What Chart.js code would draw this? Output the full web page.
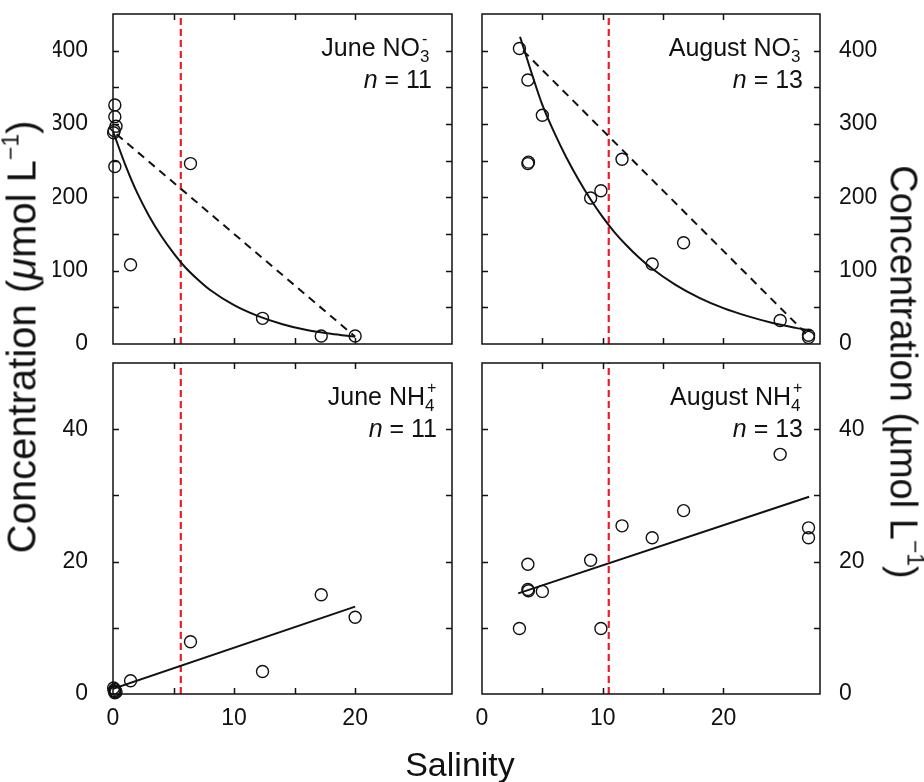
<!DOCTYPE html>
<html>
<head>
<meta charset="utf-8">
<script src="https://cdn.jsdelivr.net/npm/chart.js@4.4.0/dist/chart.umd.min.js"></script>
<style>
  html, body { margin: 0; padding: 0; background: #fff; }
  #wrap { position: relative; width: 924px; height: 782px; overflow: hidden;
          font-family: "Liberation Sans", Arial, sans-serif; color: #111; }
  #wrap canvas { position: absolute; left: 0; top: 0; }
  .note { position: absolute; text-align: right; font-size: 25px; line-height: 32px; white-space: nowrap; }
  .ss { display: inline-block; position: relative; width: 12px; height: 20px; }
  .ss .up { position: absolute; left: 2px; top: -13px; font-size: 16px; }
  .ss .dn { position: absolute; left: 0; top: 5px; font-size: 17px; }
  .title { position: absolute; white-space: nowrap; font-size: 40px; }
  .title sup { font-size: 23px; vertical-align: 17px; }
</style>
</head>
<body>
<div id="wrap">
  <canvas id="cJuneNo3" width="924" height="782"></canvas>
  <canvas id="cAugNo3" width="924" height="782"></canvas>
  <canvas id="cJuneNh4" width="924" height="782"></canvas>
  <canvas id="cAugNh4" width="924" height="782"></canvas>

  <div class="note" style="right:492px; top:31px;">June NO<span class="ss"><span class="up">-</span><span class="dn">3</span></span><br><i>n</i> = 11</div>
  <div class="note" style="right:121px; top:31px;">August NO<span class="ss"><span class="up">-</span><span class="dn">3</span></span><br><i>n</i> = 13</div>
  <div class="note" style="right:487px; top:380px;">June NH<span class="ss"><span class="up">+</span><span class="dn">4</span></span><br><i>n</i> = 11</div>
  <div class="note" style="right:121px; top:380px;">August NH<span class="ss"><span class="up">+</span><span class="dn">4</span></span><br><i>n</i> = 13</div>

  <div class="title" style="left:21px; top:337px; transform:translate(-50%,-50%) rotate(-90deg);">Concentration (<i>μ</i>mol L<sup>−1</sup>)</div>
  <div class="title" style="left:905px; top:372px; transform:translate(-50%,-50%) rotate(90deg); font-size:38px;">Concentration (µmol L<sup>−1</sup>)</div>
  <div class="title" style="left:460px; top:764px; transform:translate(-50%,-50%); font-size:34px;">Salinity</div>
</div>

<script>
/* ── Data ─────────────────────────────────────────────────────── */
// June stations (n = 11)
const juneSalinity = [0.15, 0.15, 0.25, 0.1, 0.05, 0.15, 1.45, 6.4, 12.35, 17.2, 20.0];
const juneNo3      = [326, 310, 297, 291, 288, 242, 108, 246, 35, 11, 11];
const juneNh4      = [0.4, 0.7, 0.3, 0.5, 0.9, 0.2, 2.0, 7.9, 3.4, 15.0, 11.6];

// August stations (n = 13)
const augSalinity = [3.1, 3.8, 3.8, 3.85, 5.0, 9.0, 9.85, 11.6, 14.1, 16.7, 24.7, 27.05, 27.05];
const augNo3      = [403, 360, 246, 248, 312, 199, 209, 252, 109, 138, 32, 12, 9];
const augNh4      = [9.9, 19.6, 15.8, 15.6, 15.5, 20.2, 9.9, 25.4, 23.6, 27.7, 36.2, 25.1, 23.6];

// fitted curves (solid) and conservative mixing lines (dashed)
const juneNo3FitX = [0, 1, 2, 3, 4, 5, 6, 7, 8, 10, 12, 14, 16, 18, 20];
const juneNo3FitY = [290, 245, 206, 174, 147, 124, 104, 88, 74, 53, 38, 27, 19, 14, 10];
const juneNo3MixX = [0.3, 20];
const juneNo3MixY = [286, 10];

const augNo3FitX = [3.15, 4, 5, 6, 7, 8, 9, 10, 11, 12, 13, 14, 16, 18, 20, 22, 24, 26, 27.3];
const augNo3FitY = [419, 375, 326, 288, 254, 224, 197, 173, 152, 134, 118, 104, 81, 63, 49, 38, 29, 22, 18];
const augNo3MixX = [3.4, 27.1];
const augNo3MixY = [400, 10];

const juneNh4FitX = [0, 20];
const juneNh4FitY = [0.8, 13.2];
const augNh4FitX  = [3.0, 27.1];
const augNh4FitY  = [15.2, 29.8];

// red vertical markers (salinity)
const juneMarker = 5.6;
const augMarker  = 10.5;

// axes
const salinityMax = 28;
const no3Max = 450;
const nh4Max = 50;

/* ── Helpers ─────────────────────────────────────────────────── */
const FONT = 'Liberation Sans';
const pts = (xs, ys) => xs.map((x, i) => ({ x, y: ys[i] }));

// frame + inward ticks on all four sides
const framePlugin = {
  id: 'frame',
  afterDatasetsDraw(chart) {
    const { ctx, chartArea: a, scales } = chart;
    ctx.save();
    ctx.strokeStyle = '#111';
    ctx.lineWidth = 1.5;
    const len = 6;
    scales.x.ticks.forEach(t => {
      if (t.value <= scales.x.min || t.value >= scales.x.max) return;
      const px = Math.round(scales.x.getPixelForValue(t.value)) + 0.5;
      ctx.beginPath();
      ctx.moveTo(px, a.bottom); ctx.lineTo(px, a.bottom - len);
      ctx.moveTo(px, a.top);    ctx.lineTo(px, a.top + len);
      ctx.stroke();
    });
    scales.y.ticks.forEach(t => {
      if (t.value <= scales.y.min || t.value >= scales.y.max) return;
      const py = Math.round(scales.y.getPixelForValue(t.value)) + 0.5;
      ctx.beginPath();
      ctx.moveTo(a.left, py);  ctx.lineTo(a.left + len, py);
      ctx.moveTo(a.right, py); ctx.lineTo(a.right - len, py);
      ctx.stroke();
    });
    ctx.strokeRect(a.left, a.top, a.right - a.left, a.bottom - a.top);
    ctx.restore();
  }
};

// fixed axis size, and no extra label padding pushed into the layout
const fixSize = (dim, size) => s => {
  s[dim] = size;
  s.paddingTop = 0; s.paddingBottom = 0;
  s.paddingLeft = 0; s.paddingRight = 0;
};

function buildPanel(canvasId, opt) {
  const datasets = [
    {
      type: 'scatter',
      data: pts(opt.sal, opt.conc),
      pointRadius: 6,
      pointBorderWidth: 1.4,
      pointBorderColor: '#111',
      pointBackgroundColor: 'rgba(0,0,0,0)',
      clip: false,
    },
  ];
  opt.lines.forEach(l => datasets.push({
    type: 'line',
    data: pts(l.x, l.y),
    borderColor: '#111',
    borderWidth: 2,
    borderDash: l.dash ? [8, 6] : [],
    pointRadius: 0,
    cubicInterpolationMode: 'monotone',
    fill: false,
  }));
  datasets.push({
    type: 'line',
    data: pts([opt.marker, opt.marker], [0, opt.yMax]),
    borderColor: '#ee1c24',
    borderWidth: 2.2,
    borderDash: [7, 4],
    pointRadius: 0,
    fill: false,
  });

  const rightSide = opt.side === 'right';
  const bottomRow = opt.row === 'bottom';
  const f = opt.frame;

  return new Chart(document.getElementById(canvasId), {
    type: 'scatter',
    data: { datasets },
    options: {
      responsive: false,
      animation: false,
      events: [],
      layout: {
        autoPadding: false,
        padding: {
          left: rightSide ? f.left : f.left - 60,
          right: rightSide ? 924 - f.right - 60 : 924 - f.right,
          top: f.top,
          bottom: bottomRow ? 782 - f.bottom - 40 : 782 - f.bottom,
        },
      },
      plugins: { legend: { display: false }, tooltip: { enabled: false } },
      scales: {
        x: {
          type: 'linear',
          min: 0, max: salinityMax,
          grid: { display: false, drawTicks: false },
          border: { display: false },
          ticks: {
            display: bottomRow,
            stepSize: 5,
            padding: 11,
            color: '#111',
            font: { family: FONT, size: 23 },
            callback: v => (v % 10 === 0 ? String(v) : ''),
          },
          afterFit: fixSize('height', bottomRow ? 40 : 0),
        },
        y: {
          type: 'linear',
          position: rightSide ? 'right' : 'left',
          min: 0, max: opt.yMax,
          grid: { display: false, drawTicks: false },
          border: { display: false },
          ticks: {
            stepSize: opt.yStep,
            padding: rightSide ? 19 : 25,
            color: '#111',
            font: { family: FONT, size: 23 },
            callback: v => (v % opt.yLabelEvery === 0 && v < opt.yMax ? String(v) : ''),
          },
          afterFit: fixSize('width', 60),
        },
      },
    },
    plugins: [framePlugin],
  });
}

/* ── Panels ──────────────────────────────────────────────────── */
buildPanel('cJuneNo3', {
  sal: juneSalinity, conc: juneNo3, marker: juneMarker,
  yMax: no3Max, yStep: 50, yLabelEvery: 100, side: 'left', row: 'top',
  lines: [
    { x: juneNo3FitX, y: juneNo3FitY },
    { x: juneNo3MixX, y: juneNo3MixY, dash: true },
  ],
  frame: { left: 113, right: 452, top: 14, bottom: 344 },
});

buildPanel('cAugNo3', {
  sal: augSalinity, conc: augNo3, marker: augMarker,
  yMax: no3Max, yStep: 50, yLabelEvery: 100, side: 'right', row: 'top',
  lines: [
    { x: augNo3FitX, y: augNo3FitY },
    { x: augNo3MixX, y: augNo3MixY, dash: true },
  ],
  frame: { left: 482, right: 820, top: 14, bottom: 344 },
});

buildPanel('cJuneNh4', {
  sal: juneSalinity, conc: juneNh4, marker: juneMarker,
  yMax: nh4Max, yStep: 10, yLabelEvery: 20, side: 'left', row: 'bottom',
  lines: [{ x: juneNh4FitX, y: juneNh4FitY }],
  frame: { left: 113, right: 452, top: 363, bottom: 694 },
});

buildPanel('cAugNh4', {
  sal: augSalinity, conc: augNh4, marker: augMarker,
  yMax: nh4Max, yStep: 10, yLabelEvery: 20, side: 'right', row: 'bottom',
  lines: [{ x: augNh4FitX, y: augNh4FitY }],
  frame: { left: 482, right: 820, top: 363, bottom: 694 },
});
</script>
</body>
</html>
